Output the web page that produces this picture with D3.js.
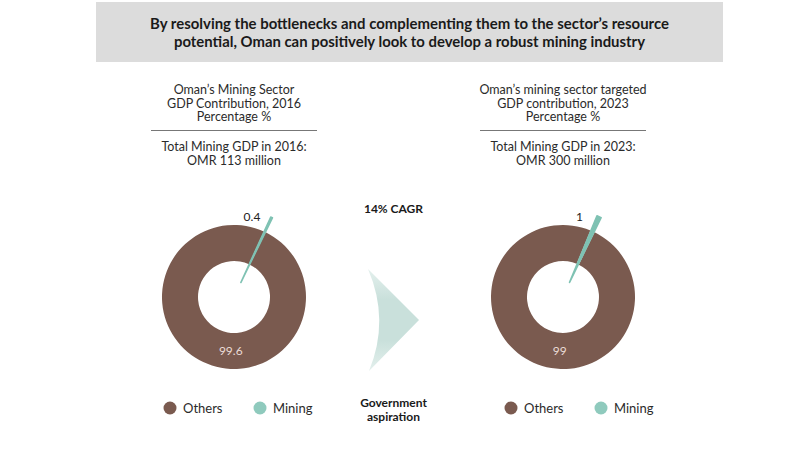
<!DOCTYPE html>
<html>
<head>
<meta charset="utf-8">
<script src="https://cdn.jsdelivr.net/npm/d3@7/dist/d3.min.js"></script>
<style>
  html, body { margin: 0; padding: 0; background: #fff; }
  svg { display: block; }
  text { font-family: "Lato", "Open Sans", sans-serif; }
</style>
</head>
<body>
<svg id="chart" width="800" height="450"></svg>
<script>
// ---- data ----
const categories = ["Others", "Mining"];
const values2016 = [99.6, 0.4];
const values2023 = [99, 1];
const valueLabels2016 = ["99.6", "0.4"];
const valueLabels2023 = ["99", "1"];
const headerLines = [
  "By resolving the bottlenecks and complementing them to the sector\u2019s resource",
  "potential, Oman can positively look to develop a robust mining industry"
];
const titles2016 = ["Oman\u2019s Mining Sector", "GDP Contribution, 2016", "Percentage %"];
const titles2023 = ["Oman\u2019s mining sector targeted", "GDP contribution, 2023", "Percentage %"];
const totals2016 = ["Total Mining GDP in 2016:", "OMR 113 million"];
const totals2023 = ["Total Mining GDP in 2023:", "OMR 300 million"];
const cagrLabel = "14% CAGR";
const aspirationLines = ["Government", "aspiration"];

// ---- styles ----
const colors = d3.scaleOrdinal().domain(categories).range(["#7a5a4f", "#7fc2b3"]);
const legendColors = d3.scaleOrdinal().domain(categories).range(["#7a5a4f", "#8fcabd"]);
const svg = d3.select("#chart");

// header
svg.append("rect").attr("x", 96).attr("y", 2).attr("width", 627).attr("height", 60).attr("fill", "#dcdcdc");
const headerLens = [519, 471];
headerLines.forEach((t, i) => {
  svg.append("text")
    .attr("x", 409.5).attr("y", 29 + i * 18)
    .attr("text-anchor", "middle")
    .attr("font-size", 15).attr("font-weight", 700).attr("fill", "#1a1a1a")
    .attr("textLength", headerLens[i]).attr("lengthAdjust", "spacingAndGlyphs")
    .text(t);
});

function panel(cx, legendX, titles, totals, values, labels) {
  const g = svg.append("g");
  titles.forEach((t, i) => {
    g.append("text").attr("x", cx).attr("y", 94 + i * 13.6)
      .attr("text-anchor", "middle").attr("font-size", 12.5).attr("fill", "#2b2b2b").text(t);
  });
  g.append("line").attr("x1", cx - 83).attr("x2", cx + 83).attr("y1", 130.5).attr("y2", 130.5)
    .attr("stroke", "#777").attr("stroke-width", 1);
  totals.forEach((t, i) => {
    g.append("text").attr("x", cx).attr("y", 151 + i * 13.6)
      .attr("text-anchor", "middle").attr("font-size", 12.5).attr("fill", "#2b2b2b").text(t);
  });

  // donut
  const cy = 297, R = 72, r = 36, explode = 16;
  const rot = 26 * Math.PI / 180;
  const pie = d3.pie().sort(null).value(d => d.value)
    .startAngle(rot).endAngle(rot + 2 * Math.PI);
  const data = categories.map((c, i) => ({ cat: c, value: values[i], label: labels[i] }));
  const arcs = pie(data);
  const ring = d3.arc().innerRadius(r).outerRadius(R);
  const wedge = d3.arc().innerRadius(0).outerRadius(R);
  const dg = g.append("g").attr("transform", `translate(${cx},${cy})`);

  arcs.forEach(a => {
    if (a.data.cat === "Others") {
      dg.append("path").attr("d", ring(a)).attr("fill", colors(a.data.cat));
      const la = d3.arc().innerRadius(r).outerRadius(R);
      const ang = Math.PI + 0.06;
      const [lx, ly] = la.centroid({ startAngle: ang, endAngle: ang });
      dg.append("text").attr("x", lx).attr("y", ly + 4.5).attr("text-anchor", "middle")
        .attr("font-size", 12).attr("fill", "#eadcd6").text(a.data.label);
    } else {
      const mid = (a.startAngle + a.endAngle) / 2;
      const dx = Math.sin(mid) * explode, dy = -Math.cos(mid) * explode;
      dg.append("path").attr("d", wedge(a))
        .attr("transform", `translate(${dx},${dy})`)
        .attr("fill", colors(a.data.cat))
        .attr("stroke", colors(a.data.cat)).attr("stroke-width", 1.6).attr("stroke-linejoin", "round");
      const la = mid - 0.22, lr = 82;
      dg.append("text").attr("x", Math.sin(la) * lr).attr("y", -Math.cos(la) * lr + 4)
        .attr("text-anchor", "middle").attr("font-size", 12).attr("fill", "#222").text(a.data.label);
    }
  });

  // legend
  const gap = 90;
  categories.forEach((c, i) => {
    const x = legendX + i * gap;
    g.append("circle").attr("cx", x).attr("cy", 408).attr("r", 6.5).attr("fill", legendColors(c));
    g.append("text").attr("x", x + 13).attr("y", 412.5).attr("font-size", 13).attr("fill", "#2b2b2b").text(c);
  });
}

panel(234, 170, titles2016, totals2016, values2016, valueLabels2016);
panel(563, 511, titles2023, totals2023, values2023, valueLabels2023);

// middle
svg.append("text").attr("x", 393.5).attr("y", 213).attr("text-anchor", "middle")
  .attr("font-size", 12).attr("font-weight", 700).attr("fill", "#1a1a1a").text(cagrLabel);
aspirationLines.forEach((t, i) => {
  svg.append("text").attr("x", 393.5).attr("y", 407 + i * 14).attr("text-anchor", "middle")
    .attr("font-size", 12).attr("font-weight", 700).attr("fill", "#1a1a1a").text(t);
});

const defs = svg.append("defs");
const grad = defs.append("linearGradient").attr("id", "chev").attr("x1", 0).attr("y1", 0).attr("x2", 0).attr("y2", 1);
grad.append("stop").attr("offset", "0%").attr("stop-color", "#e4f0ed");
grad.append("stop").attr("offset", "30%").attr("stop-color", "#c9e0db");
grad.append("stop").attr("offset", "70%").attr("stop-color", "#c9e0db");
grad.append("stop").attr("offset", "100%").attr("stop-color", "#e4f0ed");
const chev = d3.path();
chev.moveTo(368, 269);
chev.lineTo(419, 320);
chev.lineTo(369, 371);
chev.quadraticCurveTo(390, 320, 368, 269);
chev.closePath();
svg.append("path").attr("d", chev.toString()).attr("fill", "url(#chev)");
</script>
</body>
</html>
